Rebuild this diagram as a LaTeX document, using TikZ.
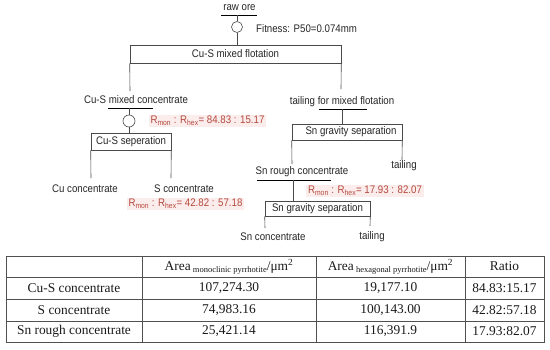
\documentclass[tikz,border=0pt]{standalone}
\usepackage{fontspec}
\setmainfont{Liberation Serif}
\newfontfamily\nsans[FakeStretch=0.88]{Liberation Sans}
\definecolor{linec}{HTML}{4A4A4A}
\definecolor{redt}{HTML}{B4483C}
\definecolor{pinkbg}{HTML}{FCEDED}
\definecolor{tabline}{HTML}{505050}
\begin{document}
\begin{tikzpicture}[x=1pt,y=-1pt,
  lbl/.style={font=\nsans\fontsize{11}{12}\selectfont, inner sep=0pt, text=black!85},
  boxn/.style={draw=linec, line width=0.6pt, fill=white, inner sep=0pt, font=\nsans\fontsize{11}{12}\selectfont, text=black!85},
  circ/.style={draw=linec, line width=0.6pt, circle, inner sep=0pt, minimum size=11pt},
  conn/.style={draw=linec, line width=0.6pt},
  ul/.style={draw=black, line width=0.9pt},
  redlab/.style={font=\nsans\fontsize{11}{12}\selectfont, text=redt, fill=pinkbg, inner xsep=2pt, inner ysep=1.5pt},
  tab/.style={draw=tabline, line width=0.7pt},
  cell/.style={font=\fontsize{13.4}{15}\selectfont, inner sep=0pt, text=black!90}
]
\useasboundingbox (0,0) rectangle (550,349);

% ---- top
\node[lbl] (raw) at (239.5,8) {raw ore};
\coordinate (ula) at (221,15); \coordinate (ulb) at (257,15); \coordinate (ulm) at (237,15);
\draw[ul] (ula) -- (ulb);
\node[circ] (c1) at (237,27) {};
\node[lbl, anchor=west] (fit) at (256,29) {Fitness: P50=0.074mm};
\node[boxn, minimum width=211pt, minimum height=18pt] (b1) at (235.5,54) {Cu-S mixed flotation};
\draw[conn] (ulm) -- (c1.north);
\draw[conn] (c1.south) -- (c1.south |- b1.north);
\coordinate (e1) at (130,91);
\coordinate (e2) at (341,89);
\draw[conn] (b1.south west) -- (e1);
\draw[conn] (b1.south east) -- (e2);

% ---- left branch
\node[lbl] (cmc) at (136,100) {Cu-S mixed concentrate};
\coordinate (ul2a) at (108,108); \coordinate (ul2b) at (153,108); \coordinate (ul2m) at (129,108);
\draw[ul] (ul2a) -- (ul2b);
\node[circ, minimum size=12pt] (c2) at (129,121) {};
\node[redlab] (r1) at (207.5,121) {R\textsubscript{mon} : R\textsubscript{hex}= 84.83 : 15.17};
\node[boxn, minimum width=80pt, minimum height=17pt] (b2) at (131,141.5) {Cu-S seperation};
\draw[conn] (ul2m) -- (c2.north);
\draw[conn] (c2.south) -- (c2.south |- b2.north);
\coordinate (e3) at (91,178);
\coordinate (e4) at (171,178);
\draw[conn] (b2.south west) -- (e3);
\draw[conn] (b2.south east) -- (e4);
\node[lbl] (cuc) at (85,189) {Cu concentrate};
\node[lbl] (sc) at (184,189) {S concentrate};
\node[redlab] (r2) at (185.5,204) {R\textsubscript{mon} : R\textsubscript{hex}= 42.82 : 57.18};

% ---- right branch
\node[lbl] (tmf) at (342,102) {tailing for mixed flotation};
\coordinate (ul3a) at (319,109); \coordinate (ul3b) at (367,109); \coordinate (ul3m) at (342,109);
\draw[ul] (ul3a) -- (ul3b);
\node[boxn, minimum width=110pt, minimum height=16pt] (b3) at (347,132) {\hspace*{8pt}Sn gravity separation};
\draw[conn] (ul3m) -- (ul3m |- b3.north);
\coordinate (e5) at (292,164);
\coordinate (e6) at (402,160);
\draw[conn] (b3.south west) -- (e5);
\draw[conn] (b3.south east) -- (e6);
\node[lbl] (src) at (302,172) {Sn rough concentrate};
\node[lbl] (t1) at (404,166) {tailing};
\coordinate (ul4a) at (257,180); \coordinate (ul4b) at (331,180); \coordinate (ul4m) at (293,180);
\draw[ul] (ul4a) -- (ul4b);
\node[redlab] (r3) at (365,191) {R\textsubscript{mon} : R\textsubscript{hex}= 17.93 : 82.07};
\node[boxn, minimum width=105pt, minimum height=15pt] (b4) at (317.5,208.5) {Sn gravity separation};
\draw[conn] (ul4m) -- (ul4m |- b4.north);
\coordinate (e7) at (265,228);
\coordinate (e8) at (370,226);
\draw[conn] (b4.south west) -- (e7);
\draw[conn] (b4.south east) -- (e8);
\node[lbl] (snc) at (273,237) {Sn concentrate};
\node[lbl] (t2) at (372,237) {tailing};

% ---- table
\draw[tab] (6,256) rectangle (544,342);
\foreach \yy in {277,299,321} \draw[tab] (6,\yy) -- (544,\yy);
\foreach \xx in {142,316,465} \draw[tab] (\xx,256) -- (\xx,342);
\node[cell] (h1) at (229,266.5) {Area\,\raisebox{-0.3ex}{\fontsize{8.5}{9}\selectfont monoclinic pyrrhotite}/μm\textsuperscript{2}};
\node[cell] (h2) at (390.5,266.5) {Area\,\raisebox{-0.3ex}{\fontsize{8.5}{9}\selectfont hexagonal pyrrhotite}/μm\textsuperscript{2}};
\node[cell] (h3) at (504.5,266.5) {Ratio};
\node[cell] (a1) at (74,288) {Cu-S concentrate};
\node[cell] (a2) at (229,288) {107,274.30};
\node[cell] (a3) at (390.5,288) {19,177.10};
\node[cell] (a4) at (504.5,288) {84.83:15.17};
\node[cell] (b1t) at (74,310) {S concentrate};
\node[cell] (b2t) at (229,310) {74,983.16};
\node[cell] (b3t) at (390.5,310) {100,143.00};
\node[cell] (b4t) at (504.5,310) {42.82:57.18};
\node[cell] (c1t) at (74,331.5) {Sn rough concentrate};
\node[cell] (c2t) at (229,331.5) {25,421.14};
\node[cell] (c3t) at (390.5,331.5) {116,391.9};
\node[cell] (c4t) at (504.5,331.5) {17.93:82.07};
\end{tikzpicture}
\end{document}
